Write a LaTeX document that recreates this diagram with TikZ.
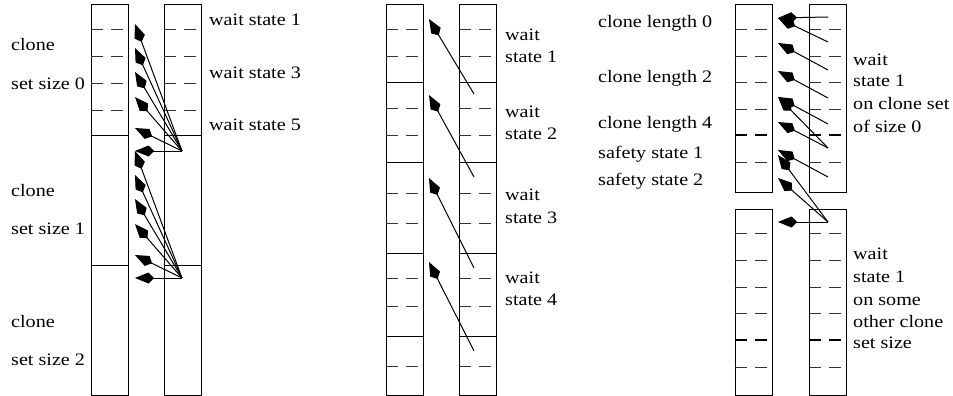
\documentclass[tikz,border=0pt]{standalone}
\usepackage{fontspec}
\setmainfont{Liberation Serif}[FakeStretch=1.15]
\usetikzlibrary{arrows.meta}

\begin{document}
\begin{tikzpicture}[x=1pt,y=-1pt,
  col/.style={line width=1pt},
  sep/.style={line width=1pt},
  dsh/.style={line width=0.9pt, draw=black!80, dash pattern=on 12pt off 8pt},
  thk/.style={line width=2.2pt, dash pattern=on 12pt off 8pt},
  ptr/.style={line width=1pt, -{Kite[length=19pt,width=11pt,inset=5.5pt]}},
  lbl/.style={anchor=base west, inner sep=0pt, font=\fontsize{17.5}{20}\selectfont}
]
\useasboundingbox (0,0) rectangle (953,396);

% ---------- first pair of columns: clone set sizes ----------
\draw[col] (91,5) rectangle (128,395);
\draw[col] (164,5) rectangle (201,395);
\foreach \y in {135,265} {
  \draw[sep] (91,\y) -- (128,\y);
  \draw[sep] (164,\y) -- (201,\y);
}
\foreach \y in {29,56,83,110} {
  \draw[dsh] (91,\y) -- (128,\y);
  \draw[dsh] (164,\y) -- (201,\y);
}
\coordinate (sA) at (182,151);
\coordinate (sB) at (182,278);
\foreach \d [count=\i] in {-127,-103,-79,-54,-23,0} {
  \coordinate (tA\i) at (135,151+\d);
  \coordinate (tB\i) at (135,278+\d);
  \draw[ptr] (sA) -- (tA\i);
  \draw[ptr] (sB) -- (tB\i);
}
\node[lbl] (w1) at (209,26) {wait state 1};
\node[lbl] (w3) at (209,78) {wait state 3};
\node[lbl] (w5) at (209,130) {wait state 5};
\node[lbl] (c0a) at (11,51) {clone};
\node[lbl] (c0b) at (11,89) {set size 0};
\node[lbl] (c1a) at (11,196) {clone};
\node[lbl] (c1b) at (11,234) {set size 1};
\node[lbl] (c2a) at (11,327) {clone};
\node[lbl] (c2b) at (11,365) {set size 2};

% ---------- second pair of columns: wait states ----------
\draw[col] (386,5) rectangle (423,395);
\draw[col] (459,5) rectangle (496,395);
\foreach \y in {82,162,253,336} {
  \draw[sep] (386,\y) -- (423,\y);
  \draw[sep] (459,\y) -- (496,\y);
}
\foreach \y in {29,56,108,135,193,223,278,306,366} {
  \draw[dsh] (386,\y) -- (423,\y);
  \draw[dsh] (459,\y) -- (496,\y);
}
\coordinate (p1) at (474,94);   \coordinate (q1) at (429,19);
\coordinate (p2) at (474,177);  \coordinate (q2) at (429,95);
\coordinate (p3) at (474,268);  \coordinate (q3) at (429,178);
\coordinate (p4) at (474,351);  \coordinate (q4) at (429,262);
\foreach \i in {1,...,4} \draw[ptr] (p\i) -- (q\i);
\node[lbl] (ws1a) at (505,41) {wait};
\node[lbl] (ws1b) at (505,63) {state 1};
\node[lbl] (ws2a) at (505,117) {wait};
\node[lbl] (ws2b) at (505,139) {state 2};
\node[lbl] (ws3a) at (505,200) {wait};
\node[lbl] (ws3b) at (505,223) {state 3};
\node[lbl] (ws4a) at (505,283) {wait};
\node[lbl] (ws4b) at (505,305) {state 4};

% ---------- third group: clone lengths and safety states ----------
\draw[col] (735,5) rectangle (772,192);
\draw[col] (809,5) rectangle (846,192);
\draw[col] (735,209) rectangle (772,395);
\draw[col] (809,209) rectangle (846,395);
\foreach \y in {29,56,82,109,162,233,260,287,313,367} {
  \draw[dsh] (735,\y) -- (772,\y);
  \draw[dsh] (809,\y) -- (846,\y);
}
\foreach \y in {135,340} {
  \draw[thk] (735,\y) -- (772,\y);
  \draw[thk] (809,\y) -- (846,\y);
}
% sources in the right column, targets beside the left column
\coordinate (r1) at (828,17);
\coordinate (r2) at (828,42);
\coordinate (r3) at (828,70);
\coordinate (r4) at (828,98);
\coordinate (r5) at (828,124);
\coordinate (r6) at (828,148);
\coordinate (r7) at (828,177);
\coordinate (r8) at (828,222);
\coordinate (l1) at (778,18);
\coordinate (l2) at (778,43);
\coordinate (l3) at (778,71);
\coordinate (l4) at (778,97);
\coordinate (l5) at (778,122);
\coordinate (l6) at (778,150);
\coordinate (l7) at (778,155);
\coordinate (l8) at (778,178);
\coordinate (l9) at (778,222);
\draw[ptr] (r1) -- (l1);
\draw[ptr] (r2) -- (l1);
\draw[ptr] (r3) -- (l2);
\draw[ptr] (r4) -- (l3);
\draw[ptr] (r5) -- (l4);
\draw[ptr] (r6) -- (l4);
\draw[ptr] (r6) -- (l5);
\draw[ptr] (r7) -- (l6);
\draw[ptr] (r8) -- (l7);
\draw[ptr] (r8) -- (l8);
\draw[ptr] (r8) -- (l9);
\node[lbl] (cl0) at (598,28) {clone length 0};
\node[lbl] (cl2) at (598,82) {clone length 2};
\node[lbl] (cl4) at (598,128) {clone length 4};
\node[lbl] (sf1) at (598,158) {safety state 1};
\node[lbl] (sf2) at (598,185) {safety state 2};
\node[lbl] (ta1) at (853,66) {wait};
\node[lbl] (ta2) at (853,87) {state 1};
\node[lbl] (ta3) at (853,110) {on clone set};
\node[lbl] (ta4) at (853,132) {of size 0};
\node[lbl] (tb1) at (853,259) {wait};
\node[lbl] (tb2) at (853,282) {state 1};
\node[lbl] (tb3) at (853,305) {on some};
\node[lbl] (tb4) at (853,327) {other clone};
\node[lbl] (tb5) at (853,348) {set size};
\end{tikzpicture}
\end{document}
